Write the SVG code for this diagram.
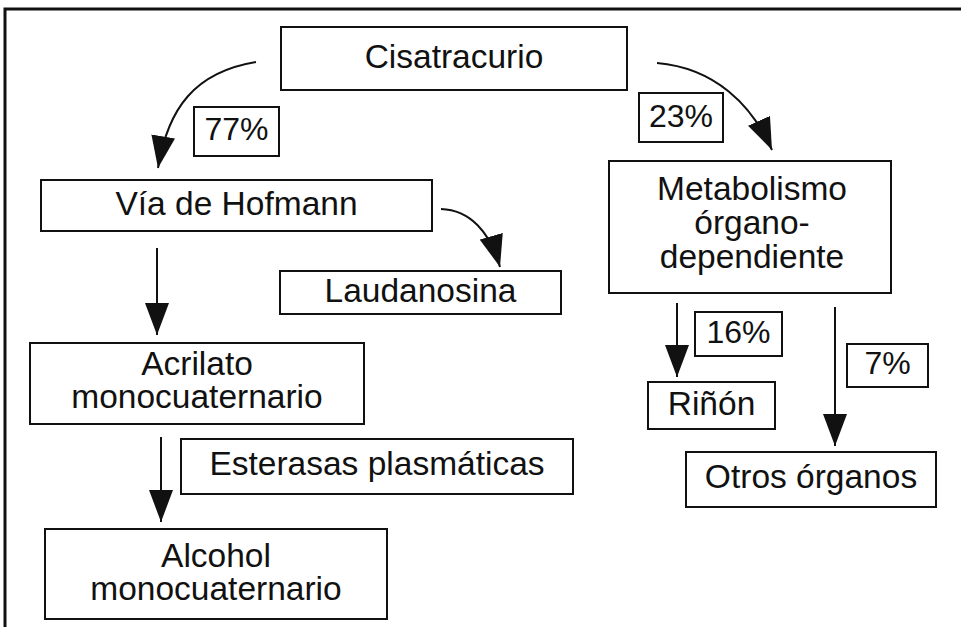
<svg xmlns="http://www.w3.org/2000/svg" width="961" height="627" viewBox="0 0 961 627">
<style>
.box{fill:#fff;stroke:#111;stroke-width:2}
.t{font-family:"Liberation Sans",Arial,sans-serif;font-size:33.5px;fill:#111;text-anchor:middle}
.p{font-family:"Liberation Sans",Arial,sans-serif;font-size:32px;fill:#111;text-anchor:middle}
.c{fill:none;stroke:#111;stroke-width:2;marker-end:url(#ah)}
</style>
<defs>
<marker id="ah" markerUnits="userSpaceOnUse" viewBox="0 0 32 24" refX="32" refY="12" markerWidth="32" markerHeight="24" orient="auto">
<path d="M0,0 L32,12 L0,24 z" fill="#111"/>
</marker>
</defs>
<rect width="961" height="627" fill="#fff"/>
<path d="M5,627 V9 H961" fill="none" stroke="#111" stroke-width="3"/>
<g id="cisatracurio"><rect class="box" x="281" y="27" width="346" height="63"/><text class="t" x="454" y="68">Cisatracurio</text></g>
<g id="p77"><rect class="box" x="194" y="107" width="85" height="49"/><text class="p" x="236.5" y="140">77%</text></g>
<g id="hofmann"><rect class="box" x="41" y="180" width="391" height="51"/><text class="t" x="236.5" y="215">Vía de Hofmann</text></g>
<g id="laudanosina"><rect class="box" x="280" y="271" width="281" height="43"/><text class="t" x="420.5" y="302">Laudanosina</text></g>
<g id="acrilato"><rect class="box" x="30" y="343" width="334" height="81"/><text class="t" x="197" y="375">Acrilato</text><text class="t" x="197" y="408">monocuaternario</text></g>
<g id="esterasas"><rect class="box" x="181" y="439" width="392" height="55"/><text class="t" x="377" y="475">Esterasas plasmáticas</text></g>
<g id="alcohol"><rect class="box" x="45" y="529" width="342" height="90"/><text class="t" x="216" y="567">Alcohol</text><text class="t" x="216" y="600">monocuaternario</text></g>
<g id="p23"><rect class="box" x="639" y="93" width="84" height="49"/><text class="p" x="681" y="127">23%</text></g>
<g id="metabolismo"><rect class="box" x="609" y="161" width="282" height="132"/><text class="t" x="752" y="200">Metabolismo</text><text class="t" x="752" y="234">órgano-</text><text class="t" x="752" y="268">dependiente</text></g>
<g id="p16"><rect class="box" x="695" y="312" width="87" height="44"/><text class="p" x="738.5" y="343">16%</text></g>
<g id="rinon"><rect class="box" x="648" y="382" width="127" height="47"/><text class="t" x="711.5" y="415">Riñón</text></g>
<g id="p7"><rect class="box" x="847" y="344" width="81" height="43"/><text class="p" x="887.5" y="374">7%</text></g>
<g id="otros"><rect class="box" x="686" y="452" width="250" height="55"/><text class="t" x="811" y="488">Otros órganos</text></g>
<g id="connectors">
<path class="c" d="M256,62 C195,72 168,108 158,168"/>
<path class="c" d="M657,63 C715,68 752,105 772,150"/>
<path class="c" d="M441,209 C470,210 490,232 500,267"/>
<path class="c" d="M157,248 V335"/>
<path class="c" d="M161,437 V522"/>
<path class="c" d="M677,303 V377"/>
<path class="c" d="M835,307 V446"/>
</g>
</svg>
